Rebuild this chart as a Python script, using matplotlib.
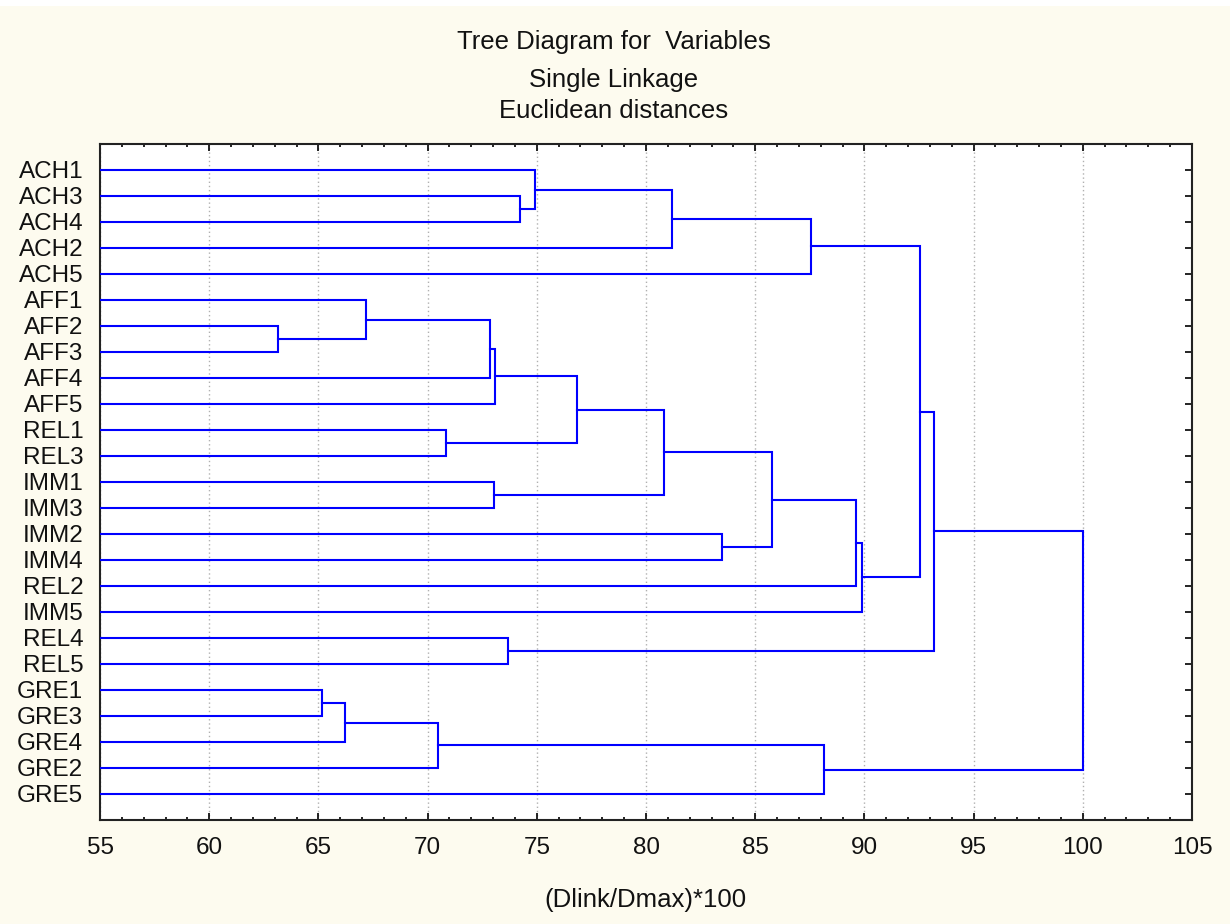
import matplotlib
matplotlib.use("Agg")
import matplotlib.pyplot as plt
from matplotlib.ticker import MultipleLocator
from matplotlib.patches import Rectangle

# ---- data ----
leaves = ["ACH1", "ACH3", "ACH4", "ACH2", "ACH5",
          "AFF1", "AFF2", "AFF3", "AFF4", "AFF5",
          "REL1", "REL3", "IMM1", "IMM3", "IMM2",
          "IMM4", "REL2", "IMM5", "REL4", "REL5",
          "GRE1", "GRE3", "GRE4", "GRE2", "GRE5"]

# merges in order; merge i creates cluster "K{i+1}"
link_left = ["ACH3", "ACH1", "K2", "K3",
             "AFF2", "AFF1", "K6", "K7", "REL1", "K8", "IMM1", "K10",
             "IMM2", "K12", "K14", "K15", "K4", "REL4", "K17",
             "GRE1", "K20", "K21", "K22", "K19"]
link_right = ["ACH4", "K1", "ACH2", "ACH5",
              "AFF3", "K5", "AFF4", "AFF5", "REL3", "K9", "IMM3", "K11",
              "IMM4", "K13", "REL2", "IMM5", "K16", "REL5", "K18",
              "GRE3", "GRE4", "GRE2", "GRE5", "K23"]
link_height = [74.25, 74.9, 81.2, 87.56,
               63.15, 67.2, 72.85, 73.1, 70.83, 76.82, 73.03, 80.81,
               83.48, 85.75, 89.6, 89.9, 92.55, 73.7, 93.2,
               65.18, 66.2, 70.46, 88.13, 100.0]

x_ticks = [55, 60, 65, 70, 75, 80, 85, 90, 95, 100, 105]

title_lines = ["Tree Diagram for  Variables", "Single Linkage", "Euclidean distances"]
x_label = "(Dlink/Dmax)*100"

# ---- figure ----
W, H = 1230, 924
BG = "#FDFBEF"
fig = plt.figure(figsize=(W / 100, H / 100), dpi=100, facecolor=BG)
fig.patches.append(Rectangle((0, 1 - 6 / H), 1, 6 / H, transform=fig.transFigure,
                             facecolor="white", edgecolor="none", zorder=0))

ax = fig.add_axes([100 / W, 1 - 820 / H, (1192 - 100) / W, (820 - 144) / H])
ax.set_facecolor("white")

font = ["Liberation Sans", "DejaVu Sans"]

# positions of nodes
pos = {name: (i + 1, 0.0) for i, name in enumerate(leaves)}
for k, (a, b, h) in enumerate(zip(link_left, link_right, link_height)):
    ya, ha = pos[a]
    yb, hb = pos[b]
    ax.plot([ha, h, h, hb], [ya, ya, yb, yb], color="#0000FF", lw=1.5,
            solid_joinstyle="miter", zorder=3)
    pos[f"K{k + 1}"] = ((ya + yb) / 2, h)

ax.set_xlim(x_ticks[0], x_ticks[-1])
ax.set_ylim(len(leaves) + 1, 0)

ax.set_xticks(x_ticks)
ax.xaxis.set_minor_locator(MultipleLocator(1))
ax.set_yticks(range(1, len(leaves) + 1))
ax.set_yticklabels(leaves)

ax.grid(axis="x", which="major", color="#b0b0b0", linestyle=(0, (1, 2)), lw=1.0, zorder=1)
ax.set_axisbelow(True)

ax.tick_params(axis="both", which="both", direction="in", top=True, right=True,
               color="black", width=1.2)
ax.tick_params(axis="both", which="major", length=5)
ax.tick_params(axis="x", which="minor", length=2.5)
ax.tick_params(axis="x", which="major", pad=12, labelsize=17.5)
ax.tick_params(axis="y", which="major", pad=12, labelsize=17.5)
for lab in ax.get_xticklabels() + ax.get_yticklabels():
    lab.set_family(font)
    lab.set_color("#111111")

for sp in ax.spines.values():
    sp.set_linewidth(1.5)
    sp.set_color("#222222")

title_y = [42, 80, 111]
for txt, yp in zip(title_lines, title_y):
    fig.text(614 / W, 1 - yp / H, txt, ha="center", va="center", fontsize=18.5,
             family=font, color="#111111")

fig.text(645 / W, 1 - 900 / H, x_label, ha="center", va="center", fontsize=18.5,
         family=font, color="#111111")

fig.savefig("out.png", dpi=100, facecolor=BG)
